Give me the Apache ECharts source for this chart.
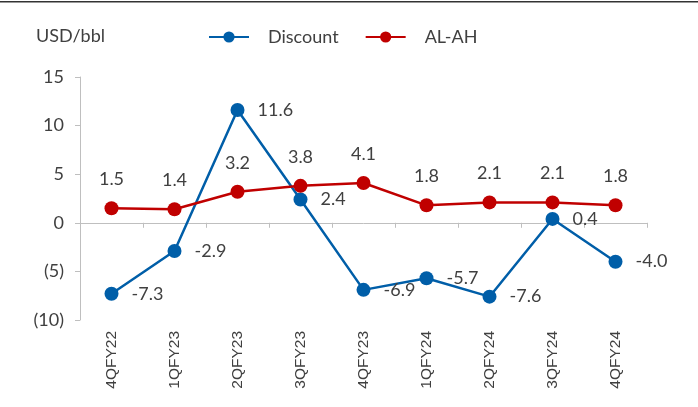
<!DOCTYPE html>
<html>
<head>
<meta charset="utf-8">
<script src="https://cdn.jsdelivr.net/npm/echarts@6/dist/echarts.min.js"></script>
<style>
  html, body { margin: 0; padding: 0; background: #fff; }
  #main { width: 698px; height: 407px; }
</style>
</head>
<body>
<div id="main"></div>
<script>
var quarters = ['4QFY22', '1QFY23', '2QFY23', '3QFY23', '4QFY23', '1QFY24', '2QFY24', '3QFY24', '4QFY24'];
var discount = [-7.3, -2.9, 11.6, 2.4, -6.9, -5.7, -7.6, 0.4, -4.0];
var alah = [1.5, 1.4, 3.2, 3.8, 4.1, 1.8, 2.1, 2.1, 1.8];

var chartDom = document.getElementById('main');
var myChart = echarts.init(chartDom);
var txt = '#404040';
var font = 'Lato';

var option = {
  animation: false,
  textStyle: { fontFamily: font },
  graphic: [
    { type: 'rect', shape: { x: 0, y: 1, width: 698, height: 1.5 }, style: { fill: '#333' } }
  ],
  title: {
    text: 'USD/bbl', left: 31, top: 22,
    textStyle: { fontSize: 18, fontWeight: 'normal', color: txt, fontFamily: font }
  },
  legend: {
    left: 203, top: 23,
    itemWidth: 40, itemHeight: 14, itemGap: 26,
    textStyle: { fontSize: 18, color: txt, fontFamily: font, padding: [0, 0, 0, 14] },
    data: ['Discount', 'AL-AH']
  },
  grid: { left: 80, right: 51, top: 77, bottom: 87 },
  xAxis: [
    {
      type: 'category', data: quarters,
      axisLine: { onZero: true, lineStyle: { color: '#bfbfbf' } },
      axisTick: { show: true, length: 5, lineStyle: { color: '#bfbfbf' } },
      axisLabel: { show: false }
    },
    {
      type: 'category', data: quarters, position: 'bottom',
      axisLine: { show: false, onZero: false },
      axisTick: { show: false },
      axisLabel: { rotate: 90, margin: 11, fontSize: 15.5, color: txt, fontFamily: 'Liberation Sans' }
    }
  ],
  yAxis: {
    type: 'value', min: -10, max: 15, interval: 5,
    axisLine: { show: true, lineStyle: { color: '#bfbfbf' } },
    axisTick: { show: true, length: 5, lineStyle: { color: '#bfbfbf' } },
    splitLine: { show: false },
    axisLabel: {
      fontSize: 18, color: txt, margin: 16,
      formatter: function (v) { return v < 0 ? '(' + Math.abs(v) + ')' : String(v); }
    }
  },
  series: [
    {
      name: 'Discount', type: 'line', data: discount,
      symbol: 'circle', symbolSize: 14,
      itemStyle: { color: '#005EA8' },
      lineStyle: { width: 2.5, color: '#005EA8' },
      label: {
        show: true, position: 'right', distance: 13, fontSize: 18, color: txt,
        formatter: function (p) { return p.value.toFixed(1); }
      },
      z: 3
    },
    {
      name: 'AL-AH', type: 'line', data: alah,
      symbol: 'circle', symbolSize: 14,
      itemStyle: { color: '#C00000' },
      lineStyle: { width: 2.5, color: '#C00000' },
      label: {
        show: true, position: 'top', distance: 13, fontSize: 18, color: txt,
        formatter: function (p) { return p.value.toFixed(1); }
      },
      z: 4
    }
  ]
};
myChart.setOption(option);
</script>
</body>
</html>
